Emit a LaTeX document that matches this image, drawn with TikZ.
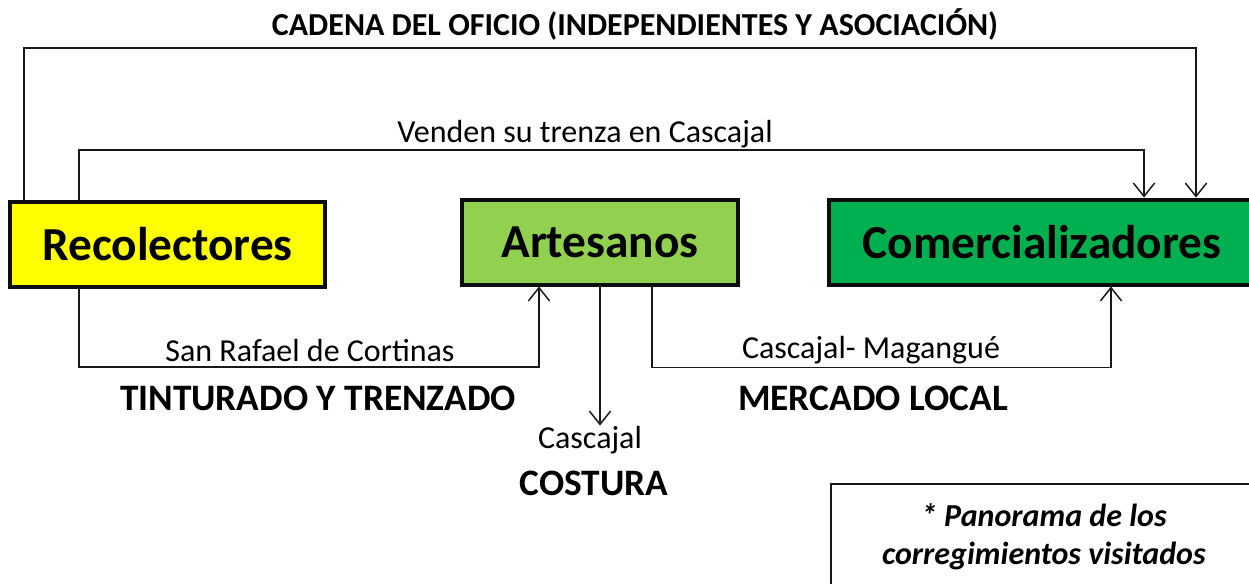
\documentclass[tikz,border=0pt]{standalone}
\usepackage{fontspec}
\setmainfont{Carlito}
\usetikzlibrary{calc,arrows.meta}
\definecolor{recyellow}{HTML}{FFFF00}
\definecolor{artgreen}{HTML}{92D050}
\definecolor{comgreen}{HTML}{00B050}
\tikzset{
  mainbox/.style={draw=black!95, line width=3pt, minimum height=63.75pt, inner sep=0pt,
    font=\fontsize{35.5}{40}\selectfont\bfseries},
  conn/.style={draw=black!90, line width=1.1pt},
  arr/.style={conn, -{Straight Barb[length=10pt,width=16pt,line width=1.1pt]}},
  lbl/.style={anchor=base, inner sep=0pt, font=\fontsize{24}{28}\selectfont},
  blbl/.style={anchor=base, inner sep=0pt, font=\fontsize{28}{32}\selectfont\bfseries},
}
\begin{document}
\begin{tikzpicture}[x=0.75pt,y=-0.75pt]
\clip (0,0) rectangle (1249,583);
\fill[white] (0,0) rectangle (1249,583);
% boxes
\node[mainbox, fill=recyellow, minimum width=236.25pt] (rec) at (167.5,244.5) {Recolectores};
\node[mainbox, fill=artgreen, minimum width=207pt] (art) at (600,242) {Artesanos};
\node[mainbox, fill=comgreen, minimum width=319.5pt] (com) at (1042,242) {Comercializadores};
\node[draw=black!90, line width=1.3pt, anchor=north west, minimum width=319.5pt, minimum height=79.5pt,
      align=center, inner sep=0pt, font=\fontsize{24}{29}\selectfont\bfseries\itshape] (pan) at (830,483)
      {* Panorama de los\\corregimientos visitados};
% title and labels
\node[anchor=base, inner sep=0pt, font=\fontsize{24}{28}\selectfont\bfseries] (title) at (635,35)
      {CADENA DEL OFICIO (INDEPENDIENTES Y ASOCIACIÓN)};
\node[lbl] (venden) at (585,142) {Venden su trenza en Cascajal};
\node[lbl] (sanraf) at (310,361) {San Rafael de Cortinas};
\node[blbl] (tint) at (318,410) {TINTURADO Y TRENZADO};
\node[lbl] (cmag) at (871,358) {Cascajal- Magangué};
\node[blbl] (merc) at (873,410) {MERCADO LOCAL};
\node[lbl] (casc) at (590,448) {Cascajal};
\node[blbl] (cost) at (594,495) {COSTURA};
% connectors
\draw[arr] ($(rec.north west)+(16,0)$) -- ++(0,-152) -| ($(com.north west)+(369,0)$);
\draw[arr] ($(rec.north west)+(71,0)$) -- ++(0,-50) -| ($(com.north west)+(317,0)$);
\draw[arr] ($(rec.south west)+(71,0)$) -- ++(0,78) -| ($(art.south west)+(79,0)$);
\draw[arr] (art.south) -- ++(0,139);
\draw[arr] ($(art.south west)+(192,0)$) -- ++(0,81) -| ($(com.south west)+(284,0)$);
\end{tikzpicture}
\end{document}
